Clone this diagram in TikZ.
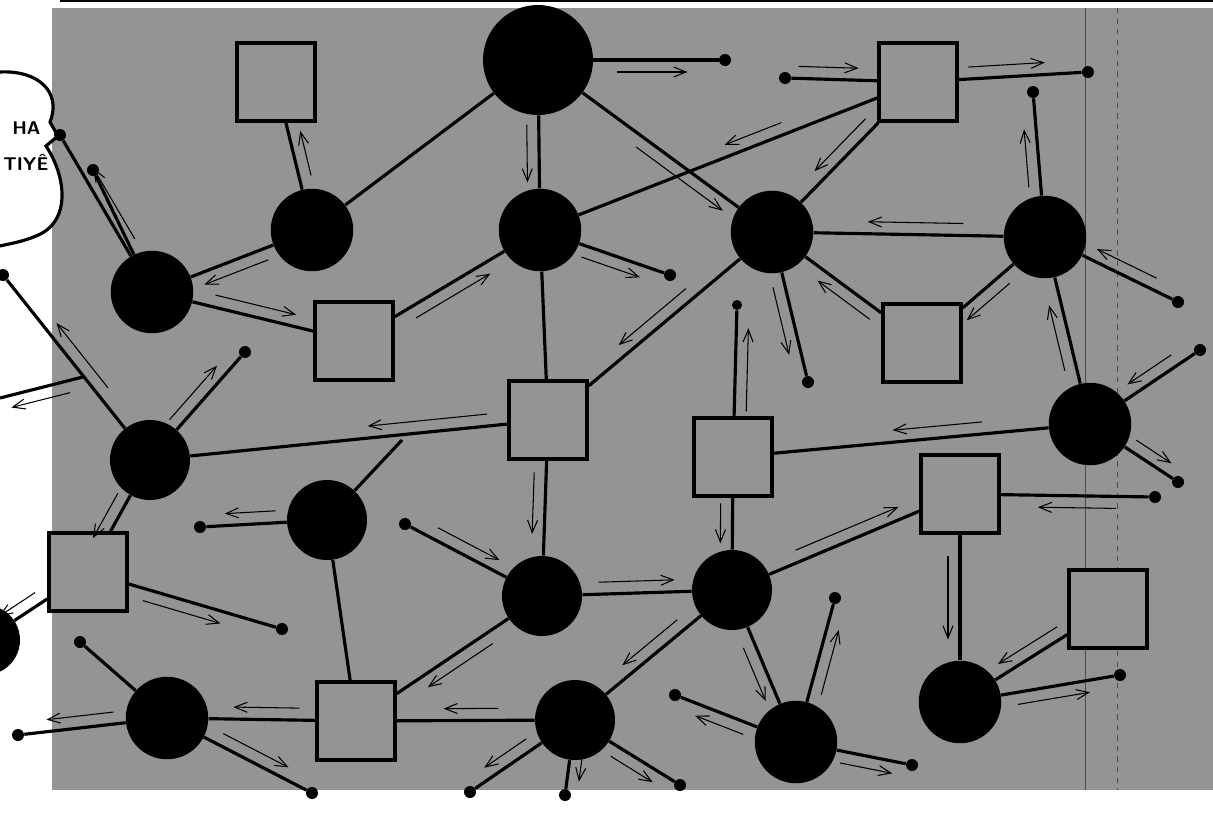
\documentclass[tikz,border=0pt]{standalone}
\usetikzlibrary{arrows.meta, calc}
\definecolor{halftone}{gray}{0.58}
\tikzset{
  hub/.style={circle, fill=black, inner sep=0pt, minimum size=1.65cm},
  bighub/.style={hub, minimum size=2.2cm},
  post/.style={rectangle, draw=black, line width=2.4pt, fill=halftone, inner sep=0pt, minimum size=1.55cm},
  stub/.style={circle, fill=black, inner sep=0pt, minimum size=2.4mm},
  link/.style={line width=1.8pt},
  flow/.style={semithick, -{Straight Barb[length=2.5mm, width=2mm]}},
  say/.style={anchor=west, inner sep=0pt, font=\fontsize{10.5}{12}\selectfont\sffamily\bfseries},
}
% thin arrow beside a link: from, to, start, end, side
\newcommand{\flowarrow}[5]{\draw[flow] ($(#1)!#3!(#2)!2.4mm!#5:(#2)$) -- ($(#1)!#4!(#2)!2.4mm!#5:(#2)$);}

\begin{document}
\begin{tikzpicture}[x=0.02cm, y=-0.02cm]
\useasboundingbox (0,0) rectangle (1213,812);
\fill[white] (0,0) rectangle (1213,812);
\fill[halftone] (52,8) rectangle (1213,790);
\draw[line width=1pt] (60,1) -- (1213,1);
\draw[black!70, thin] (1085,8) -- (1085,790);
\draw[black!70, thin, dashed] (1117,8) -- (1117,790);

% speech bubble
\draw[line width=1.8pt, fill=white] (0,72) .. controls (38,70) and (62,92) .. (50,122) -- (58,136) -- (46,146) .. controls (66,176) and (72,222) .. (36,236) .. controls (22,242) and (8,244) .. (0,246);
\node (say1) [say] at (12,128) {HA};
\node (say2) [say] at (3,162) {TIYÊ};

% hubs
\node (c1) [bighub] at (538,60) {};
\node (c2) [hub] at (312,230) {};
\node (c3) [hub] at (152,292) {};
\node (c4) [hub] at (540,230) {};
\node (c5) [hub] at (772,232) {};
\node (c6) [hub] at (1045,237) {};
\node (c7) [hub, minimum size=1.6cm] at (150,460) {};
\node (c8) [hub, minimum size=1.6cm] at (327,520) {};
\node (c9) [hub, minimum size=1.6cm] at (542,596) {};
\node (c10) [hub, minimum size=1.6cm] at (732,590) {};
\node (c11) [hub] at (1090,424) {};
\node (c12) [hub] at (167,718) {};
\node (c13) [hub, minimum size=1.6cm] at (575,720) {};
\node (c14) [hub] at (796,742) {};
\node (c15) [hub] at (960,702) {};
\node (c16) [hub, minimum size=1.4cm] at (-15,640) {};

% posts
\node (s1) [post] at (276,82) {};
\node (s2) [post] at (918,82) {};
\node (s3) [post] at (354,341) {};
\node (s4) [post] at (922,343) {};
\node (s5) [post] at (548,420) {};
\node (s6) [post] at (733,457) {};
\node (s7) [post] at (960,494) {};
\node (s8) [post] at (88,572) {};
\node (s9) [post] at (1108,609) {};
\node (s10) [post] at (356,721) {};

% loose ends
\node (e1) [stub] at (725,60) {};
\node (e2) [stub] at (60,135) {};
\node (e3) [stub] at (93,170) {};
\node (e4) [stub] at (670,275) {};
\node (e5) [stub] at (785,78) {};
\node (e6) [stub] at (1088,72) {};
\node (e7) [stub] at (1033,92) {};
\node (e8) [stub] at (808,382) {};
\node (e9) [stub] at (1178,302) {};
\node (e10) [stub] at (1200,350) {};
\node (e11) [stub] at (1178,482) {};
\node (e12) [stub] at (245,352) {};
\node (e13) [stub] at (3,275) {};
\node (e14) [stub] at (200,527) {};
\node (e15) [stub] at (405,524) {};
\node (e16) [stub] at (835,598) {};
\node (e17) [stub] at (675,695) {};
\node (e18) [stub] at (912,765) {};
\node (e19) [stub] at (470,792) {};
\node (e20) [stub] at (565,795) {};
\node (e21) [stub] at (680,785) {};
\node (e22) [stub] at (312,793) {};
\node (e23) [stub] at (80,642) {};
\node (e24) [stub] at (18,735) {};
\node (e25) [stub] at (282,629) {};
\node (e26) [stub] at (1155,497) {};
\node (e27) [stub] at (1120,675) {};
\node (e28) [stub, minimum size=2mm] at (737,305) {};
\coordinate (w1) at (0,398);
\coordinate (w2) at ($(e13)!.55!(c7)$);
\coordinate (f1) at (402,440);

% links
\draw[link] (c1) -- (c4);
\draw[link] (c1) -- (c2);
\draw[link] (c1) -- (c5);
\draw[link] (c1) -- (e1);
\draw[link] (s1) -- (c2);
\draw[link] (c2) -- (c3);
\draw[link] (c3) -- (e2);
\draw[link] (c3) -- (e3);
\draw[link] (c3) -- (s3);
\draw[link] (s3) -- (c4);
\draw[link] (c4) -- (s5);
\draw[link] (c4) -- (e4);
\draw[link] (c4) -- (s2);
\draw[link] (s2) -- (c5);
\draw[link] (e5) -- (s2);
\draw[link] (s2) -- (e6);
\draw[link] (c6) -- (e7);
\draw[link] (c5) -- (c6);
\draw[link] (c5) -- (e8);
\draw[link] (c5) -- (s5);
\draw[link] (c5) -- (s4);
\draw[link] (c6) -- (s4);
\draw[link] (c6) -- (e9);
\draw[link] (c6) -- (c11);
\draw[link] (c11) -- (e10);
\draw[link] (c11) -- (e11);
\draw[link] (c11) -- (s6);
\draw[link] (s6) -- (e28);
\draw[link] (s6) -- (c10);
\draw[link] (s5) -- (c7);
\draw[link] (s5) -- (c9);
\draw[link] (c7) -- (s8);
\draw[link] (c7) -- (e12);
\draw[link] (c7) -- (e13);
\draw[link] (w2) -- (w1);
\draw[link] (c8) -- (f1);
\draw[link] (c8) -- (e14);
\draw[link] (c8) -- (s10);
\draw[link] (e15) -- (c9);
\draw[link] (c9) -- (c10);
\draw[link] (c9) -- (s10);
\draw[link] (c10) -- (s7);
\draw[link] (c10) -- (c14);
\draw[link] (c10) -- (c13);
\draw[link] (c14) -- (e16);
\draw[link] (c14) -- (e17);
\draw[link] (c14) -- (e18);
\draw[link] (c13) -- (s10);
\draw[link] (c13) -- (e19);
\draw[link] (c13) -- (e20);
\draw[link] (c13) -- (e21);
\draw[link] (s10) -- (c12);
\draw[link] (c12) -- (e22);
\draw[link] (c12) -- (e23);
\draw[link] (c12) -- (e24);
\draw[link] (s8) -- (e25);
\draw[link] (s8) -- (c16);
\draw[link] (e26) -- (s7);
\draw[link] (s7) -- (c15);
\draw[link] (s9) -- (c15);
\draw[link] (c15) -- (e27);

% flow arrows
\flowarrow{c1}{c4}{.38}{.72}{-90}
\flowarrow{c1}{e1}{.42}{.8}{-90}
\flowarrow{c1}{c5}{.45}{.82}{-90}
\flowarrow{c2}{s1}{.35}{.65}{-90}
\flowarrow{c2}{c3}{.3}{.7}{90}
\flowarrow{c3}{e2}{.3}{.75}{-90}
\flowarrow{c3}{s3}{.3}{.7}{90}
\flowarrow{s3}{c4}{.3}{.7}{-90}
\flowarrow{c4}{e4}{.35}{.8}{-90}
\flowarrow{s2}{c4}{.35}{.5}{-90}
\flowarrow{s2}{c5}{.3}{.65}{-90}
\flowarrow{e5}{s2}{.1}{.55}{90}
\flowarrow{s2}{e6}{.3}{.75}{90}
\flowarrow{c6}{e7}{.35}{.75}{90}
\flowarrow{c6}{c5}{.3}{.65}{-90}
\flowarrow{c5}{e8}{.35}{.8}{-90}
\flowarrow{c5}{s5}{.35}{.65}{-90}
\flowarrow{s4}{c5}{.3}{.65}{90}
\flowarrow{c6}{s4}{.35}{.7}{90}
\flowarrow{e9}{c6}{.2}{.65}{-90}
\flowarrow{c11}{c6}{.3}{.65}{90}
\flowarrow{e10}{c11}{.2}{.6}{-90}
\flowarrow{c11}{e11}{.45}{.85}{90}
\flowarrow{c11}{s6}{.3}{.55}{-90}
\flowarrow{s6}{e28}{.3}{.85}{-90}
\flowarrow{s6}{c10}{.35}{.65}{-90}
\flowarrow{s5}{c7}{.15}{.45}{-90}
\flowarrow{s5}{c9}{.3}{.65}{-90}
\flowarrow{c7}{s8}{.35}{.75}{-90}
\flowarrow{c7}{e12}{.3}{.8}{90}
\flowarrow{c7}{e13}{.35}{.7}{-90}
\flowarrow{w2}{w1}{.2}{.9}{90}
\flowarrow{c8}{e14}{.4}{.8}{-90}
\flowarrow{e15}{c9}{.2}{.65}{90}
\flowarrow{c9}{c10}{.3}{.7}{90}
\flowarrow{c9}{s10}{.3}{.65}{90}
\flowarrow{c10}{s7}{.3}{.75}{90}
\flowarrow{c10}{c14}{.35}{.7}{-90}
\flowarrow{c10}{c13}{.3}{.65}{-90}
\flowarrow{c14}{e16}{.35}{.8}{-90}
\flowarrow{c14}{e17}{.4}{.8}{90}
\flowarrow{c14}{e18}{.4}{.85}{-90}
\flowarrow{c13}{s10}{.35}{.6}{-90}
\flowarrow{c13}{e19}{.4}{.8}{-90}
\flowarrow{c13}{e20}{.45}{.8}{90}
\flowarrow{c13}{e21}{.4}{.8}{-90}
\flowarrow{s10}{c12}{.3}{.65}{-90}
\flowarrow{c12}{e22}{.35}{.8}{90}
\flowarrow{c12}{e24}{.35}{.8}{-90}
\flowarrow{s8}{e25}{.3}{.7}{-90}
\flowarrow{s8}{c16}{.45}{.8}{-90}
\flowarrow{e26}{s7}{.2}{.6}{90}
\flowarrow{s7}{c15}{.3}{.7}{-90}
\flowarrow{s9}{c15}{.3}{.7}{-90}
\flowarrow{c15}{e27}{.35}{.8}{-90}
\end{tikzpicture}
\end{document}
